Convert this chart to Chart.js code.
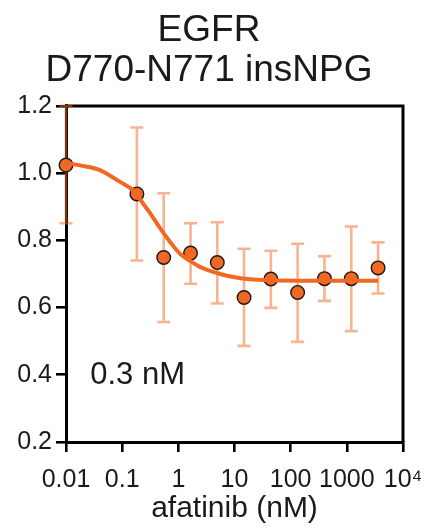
<!DOCTYPE html>
<html>
<head>
<meta charset="utf-8">
<script src="https://cdn.jsdelivr.net/npm/chart.js@4.4.0/dist/chart.umd.min.js"></script>
<style>
  html, body { margin: 0; padding: 0; background: #fff; }
  #wrap { width: 428px; height: 529px; }
</style>
</head>
<body>
<div id="wrap"><canvas id="myChart" width="428" height="529"></canvas></div>
<script>
const ctx = document.getElementById('myChart');

// afatinib concentrations (nM), the 0.01 point is the no-drug control
const conc = [0.01, 0.183, 0.549, 1.65, 4.94, 14.8, 44.4, 133, 400, 1200, 3600];
const meanValue = [1.024, 0.938, 0.749, 0.762, 0.734, 0.630, 0.685, 0.645, 0.686, 0.686, 0.718];
const errHigh = [1.200, 1.136, 0.940, 0.851, 0.854, 0.775, 0.769, 0.790, 0.753, 0.841, 0.794];
const errLow = [0.851, 0.740, 0.557, 0.671, 0.612, 0.486, 0.599, 0.498, 0.620, 0.530, 0.642];

// fitted curve
const curveX = [0.01, 0.0177, 0.0402, 0.0915, 0.138, 0.183, 0.254, 0.312, 0.47, 0.709, 1.07, 1.62, 2.43, 3.69, 5.56, 10.2, 18.9, 42.4, 144, 3600];
const curveY = [1.031, 1.023, 1.009, 0.974, 0.956, 0.935, 0.902, 0.882, 0.837, 0.796, 0.760, 0.739, 0.721, 0.709, 0.700, 0.690, 0.684, 0.681, 0.680, 0.680];

const xTicks = [0.01, 0.1, 1, 10, 100, 1000, 10000];
const xTickLabels = ['0.01', '0.1', '1', '10', '100', '1000', '10\u2074'];
const ic50Label = '0.3 nM';

const orange = 'rgb(242, 104, 34)';
const errColor = 'rgba(242, 104, 34, 0.5)';
const font = '"Liberation Sans", Arial, sans-serif';

// error bars + frame, drawn under the curve and dots
const errorBars = {
    id: 'errorBars',
    beforeDatasetsDraw(chart) {
        const c = chart.ctx;
        const x = chart.scales.x;
        const y = chart.scales.y;
        const area = chart.chartArea;
        c.save();
        // top and right sides of the box
        c.strokeStyle = '#000';
        c.lineWidth = 3;
        c.beginPath();
        c.moveTo(area.left, area.top);
        c.lineTo(area.right, area.top);
        c.lineTo(area.right, area.bottom);
        c.stroke();

        c.strokeStyle = errColor;
        c.lineWidth = 2.6;
        for (let i = 0; i < conc.length; i++) {
            const px = x.getPixelForValue(conc[i]);
            const top = y.getPixelForValue(errHigh[i]);
            const bot = y.getPixelForValue(errLow[i]);
            c.beginPath();
            c.moveTo(px, top);
            c.lineTo(px, bot);
            c.moveTo(px - 6.5, top);
            c.lineTo(px + 6.5, top);
            c.moveTo(px - 6.5, bot);
            c.lineTo(px + 6.5, bot);
            c.stroke();
        }
        c.restore();
    },
    afterDraw(chart) {
        const c = chart.ctx;
        const x = chart.scales.x;
        const y = chart.scales.y;
        c.save();
        c.fillStyle = '#1a1a1a';
        c.font = '31px ' + font;
        c.textBaseline = 'alphabetic';
        c.fillText(ic50Label, x.getPixelForValue(0.027), y.getPixelForValue(0.372));
        c.restore();
    }
};

new Chart(ctx, {
    type: 'scatter',
    data: {
        datasets: [
            {
                label: 'fit',
                type: 'line',
                data: curveX.map((v, i) => ({ x: v, y: curveY[i] })),
                borderColor: orange,
                borderWidth: 4,
                pointRadius: 0,
                cubicInterpolationMode: 'monotone',
                clip: false
            },
            {
                label: 'afatinib',
                data: conc.map((v, i) => ({ x: v, y: meanValue[i] })),
                backgroundColor: orange,
                borderColor: '#1a1a1a',
                borderWidth: 1.4,
                pointRadius: 6.8,
                clip: false
            }
        ]
    },
    options: {
        responsive: false,
        animation: false,
        layout: { padding: { left: 15, right: 25, top: 0, bottom: 2 } },
        plugins: {
            legend: { display: false },
            tooltip: { enabled: false },
            title: {
                display: true,
                text: ['EGFR', 'D770-N771 insNPG'],
                color: '#1a1a1a',
                font: { family: font, size: 37, weight: 'normal', lineHeight: 1.08 },
                padding: { top: 11, bottom: 15 }
            }
        },
        scales: {
            x: {
                type: 'logarithmic',
                min: 0.01,
                max: 10000,
                afterBuildTicks(scale) {
                    scale.ticks = xTicks.map(v => ({ value: v }));
                },
                afterFit(scale) {
                    scale.height = 85;
                    scale.paddingLeft = 0;
                    scale.paddingRight = 0;
                },
                ticks: {
                    color: '#1a1a1a',
                    font: { family: font, size: 25, lineHeight: 1.0 },
                    padding: 16,
                    maxRotation: 0,
                    autoSkip: false,
                    callback: (v, i) => xTickLabels[i]
                },
                grid: { drawOnChartArea: false, drawTicks: true, tickLength: 10, lineWidth: 2.6, color: '#000' },
                border: { display: true, width: 3, color: '#000' },
                title: {
                    display: true,
                    text: 'afatinib (nM)',
                    color: '#1a1a1a',
                    font: { family: font, size: 30 },
                    padding: { top: 0, bottom: 0 }
                }
            },
            y: {
                min: 0.2,
                max: 1.2,
                afterFit(scale) {
                    scale.width = 51;
                    scale.paddingTop = 0;
                    scale.paddingBottom = 0;
                },
                ticks: {
                    stepSize: 0.2,
                    color: '#1a1a1a',
                    font: { family: font, size: 25 },
                    padding: 4,
                    callback: v => v.toFixed(1)
                },
                grid: { drawOnChartArea: false, drawTicks: true, tickLength: 10, lineWidth: 2.6, color: '#000' },
                border: { display: true, width: 3, color: '#000' }
            }
        }
    },
    plugins: [errorBars]
});
</script>
</body>
</html>
